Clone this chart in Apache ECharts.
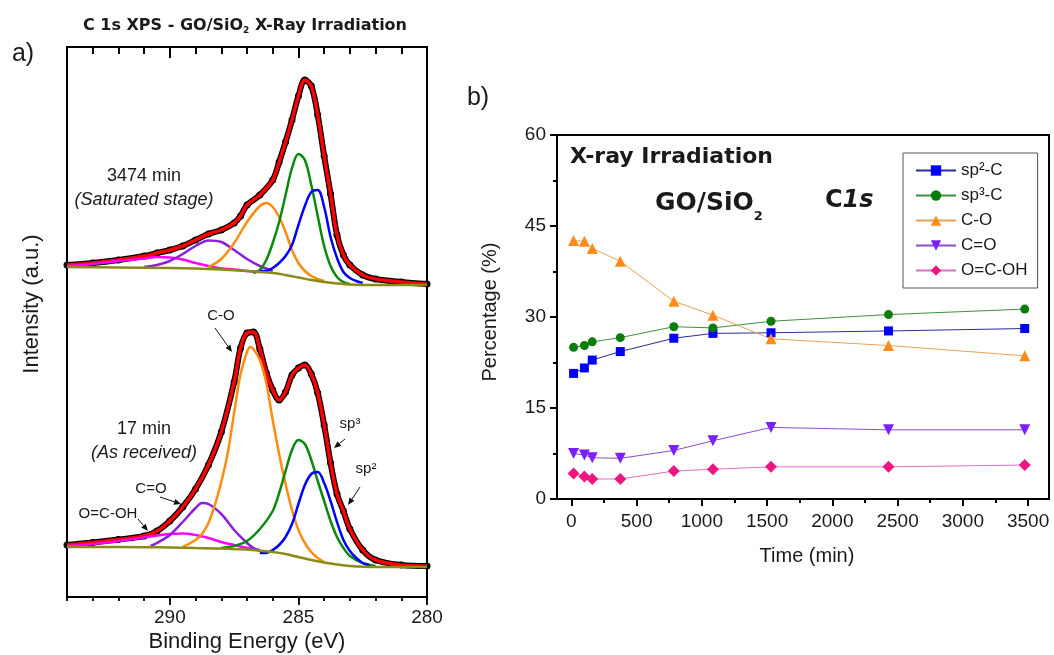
<!DOCTYPE html>
<html><head><meta charset="utf-8">
<script src="https://cdn.jsdelivr.net/npm/echarts@6/dist/echarts.min.js"></script>
<style>html,body{margin:0;padding:0;background:#fff}#c{width:1054px;height:655px}</style>
</head><body><div id="c"></div>
<script>
// ---------- Panel b) data ----------
const timeMin = [17, 100, 160, 375, 785, 1085, 1530, 2430, 3474];
const sp2C   = [20.7, 21.6, 22.9, 24.3, 26.5, 27.3, 27.4, 27.7, 28.1];
const sp3C   = [25.0, 25.3, 25.9, 26.6, 28.4, 28.2, 29.3, 30.4, 31.3];
const cO     = [42.6, 42.5, 41.3, 39.2, 32.6, 30.3, 26.4, 25.3, 23.6];
const cdO    = [7.5, 7.25, 6.8, 6.7, 8.0, 9.6, 11.8, 11.4, 11.4];
const oCOH   = [4.2, 3.7, 3.3, 3.3, 4.6, 4.9, 5.3, 5.3, 5.6];
const timeTicks = [0, 500, 1000, 1500, 2000, 2500, 3000, 3500];
const timeMinorTicks = [250, 750, 1250, 1750, 2250, 2750, 3250];
const seriesNames = ['sp\u00b2-C', 'sp\u00b3-C', 'C-O', 'C=O', 'O=C-OH'];

// ---------- Panel a) data: [binding energy (eV), intensity (a.u.)] ----------
const beTicks = [280, 285, 290];
// 3474 min (saturated stage)
const topEnvelope = [[294,332],[293,334],[292,337],[291,341],[290.5,344],[290,347],[289.5,351],[289,357],[288.5,363],[288,367],[287.5,374],[287.25,381],[287,392],[286.5,402],[286,417],[285.75,435],[285.5,455],[285.25,477],[285,501],[284.75,517],[284.5,511],[284.25,482],[284,441],[283.75,403],[283.5,362],[283.25,342],[283,332],[282.5,322],[282,318],[281,315],[280,313]];
const topBg = [[294,330],[292,329.5],[290,329],[289,328.5],[288,327.5],[287,326],[286,324],[285.5,322],[285,319.5],[284.5,317],[284,315],[283.5,313.5],[283,312.5],[282,312],[280,312]];
const topOCOH = [[294,331],[293,333],[292,336],[291,338.5],[290.5,340],[290,339.5],[289.5,337.5],[289,334],[288.5,331],[288,328.5],[287.5,327.5],[287,326],[286.5,325]];
const topCdO = [[291,330],[290.5,332],[290,336],[289.5,343],[289,351],[288.5,356.5],[288,355],[287.5,347],[287,338],[286.5,331],[286,326]];
const topCO = [[288.5,330],[288,338],[287.5,354],[287,375],[286.5,391],[286.25,394],[286,390],[285.75,380],[285.5,365],[285.25,347],[285,334],[284.75,326],[284.5,321],[284.25,318],[284,316]];
const topSp3 = [[286.75,324],[286.5,327],[286.25,337],[286,354],[285.75,375],[285.5,402],[285.25,429],[285,443],[284.75,437],[284.5,412],[284.25,381],[284,351],[283.75,331],[283.5,320],[283.25,315],[283,313]];
const topSp2 = [[286.5,326],[286.25,326],[286,329],[285.75,334],[285.5,341],[285.25,352],[285,372],[284.75,391],[284.5,405],[284.25,407],[284,390],[283.75,360],[283.5,339],[283.25,325],[283,319],[282.75,316],[282.5,314]];
// 17 min (as received)
const botEnvelope = [[294,52],[293,54.5],[292,57.5],[291,61],[290.5,66],[290,76],[289.5,90],[289,108],[288.5,132],[288,165],[287.5,215],[287.25,249],[287,264],[286.75,265],[286.5,248],[286.25,224],[286,207],[285.75,197],[285.5,205],[285.25,222],[285,229],[284.75,232],[284.5,223],[284.25,204],[284,172],[283.75,134],[283.5,103],[283.25,86],[283,68],[282.5,47],[282,37],[281,32],[280,31]];
const botBg = [[294,50],[292,50],[290,49.5],[289,49],[288,48.5],[287,47.5],[286,45],[285.5,43],[285,40],[284.5,37],[284,34.5],[283.5,32.5],[283,31],[282,30],[280,30]];
const botOCOH = [[294,51],[293,53],[292,56],[291,59.5],[290.5,61.5],[290,63],[289.5,63.5],[289,62],[288.5,59],[288,55],[287.5,52],[287,49],[286.5,47]];
const botCdO = [[290.75,51],[290.5,54],[290,62],[289.5,75],[289,89],[288.75,94],[288.5,93],[288,83],[287.5,67],[287,54],[286.75,49],[286.5,46]];
const botCO = [[289.5,50],[289,57],[288.75,63],[288.5,74],[288.25,92],[288,115],[287.75,144],[287.5,184],[287.25,223],[287,245],[286.875,250],[286.75,248],[286.5,237],[286.25,214],[286,177],[285.75,143],[285.5,113],[285.25,87],[285,67],[284.75,54],[284.5,45],[284.25,39],[284,35]];
const botSp3 = [[288,49],[287.5,51],[287,56],[286.5,68],[286,86],[285.75,104],[285.5,126],[285.25,147],[285,157],[284.75,153],[284.5,137],[284.25,116],[284,96],[283.75,76],[283.5,60],[283.25,49],[283,41],[282.5,34],[282,31]];
const botSp2 = [[286.5,44],[286.25,44],[286,47],[285.75,52],[285.5,60],[285.25,73],[285,93],[284.75,112],[284.5,123],[284.25,125],[284,114],[283.75,96],[283.5,75],[283.25,57],[283,46],[282.75,39],[282.5,34],[282.25,32]];

const FONT = '"Liberation Sans", Arial, sans-serif';
const BOLD = '"DejaVu Sans", sans-serif';

function curve(data, color, width, z, extra) {
  return Object.assign({
    type: 'line', xAxisIndex: 0, yAxisIndex: 0, data: data, smooth: 0.35,
    symbol: 'none', lineStyle: { color: color, width: width }, silent: true, z: z
  }, extra || {});
}
function dataCurve(data) {
  return curve(data, '#000', 6, 2, { symbol: 'circle', showSymbol: true, symbolSize: 7, itemStyle: { color: '#000' } });
}
function spectrum(env, bg, ocoh, cdo, co, sp3, sp2) {
  return [
    dataCurve(env),
    curve(env, '#ff0000', 3.5, 3),
    curve(ocoh, '#ff00ff', 2.5, 4),
    curve(cdo, '#8a1fe0', 2.5, 4),
    curve(co, '#ff8c12', 2.5, 4),
    curve(sp3, '#0a8a0a', 2.5, 4),
    curve(sp2, '#0000ff', 2.5, 4),
    curve(bg, '#8a8a14', 2.5, 5)
  ];
}
function pointSeries(name, vals, color, lineColor, symbol, size, rot) {
  return {
    name: name, type: 'line', xAxisIndex: 2, yAxisIndex: 1,
    data: timeMin.map((t, i) => [t, vals[i]]),
    symbol: symbol, symbolSize: size, symbolRotate: rot || 0, showSymbol: true,
    itemStyle: { color: color }, lineStyle: { color: lineColor, width: 1 }, z: 3
  };
}
function txt(x, y, text, style) {
  return { type: 'text', x: x, y: y, silent: true,
    style: Object.assign({ text: text, fill: '#1a1a1a', font: '18px ' + FONT, align: 'center', verticalAlign: 'middle' }, style || {}) };
}
function arrow(x1, y1, x2, y2) {
  const a = Math.atan2(y2 - y1, x2 - x1), L = 7, W = 3;
  const bx = x2 - L * Math.cos(a), by = y2 - L * Math.sin(a);
  const px = -Math.sin(a) * W, py = Math.cos(a) * W;
  return [
    { type: 'line', silent: true, shape: { x1: x1, y1: y1, x2: bx, y2: by }, style: { stroke: '#111', lineWidth: 1 } },
    { type: 'polygon', silent: true, shape: { points: [[x2, y2], [bx + px, by + py], [bx - px, by - py]] }, style: { fill: '#111' } }
  ];
}

const tickLbl = { fontSize: 19, fontFamily: FONT, color: '#1a1a1a', formatter: v => String(v) };
const noLine = { show: false, onZero: false };
const hiddenY = (g) => ({ gridIndex: g, type: 'value', min: 0, max: 1, show: false, axisLine: noLine });
const leftBox = { left: 67, top: 47, width: 360, height: 550 };
const rightBox = { left: 557, top: 135, width: 492, height: 364 };
const option = {
  animation: false,
  backgroundColor: '#fff',
  grid: [
    { ...leftBox, show: true, borderColor: '#000', borderWidth: 2, backgroundColor: 'transparent' },
    { ...rightBox, show: true, borderColor: '#000', borderWidth: 2, backgroundColor: 'transparent' },
    { ...leftBox, show: false },
    { ...rightBox, show: false }
  ],
  xAxis: [
    // 0: left panel bottom, 1 eV ticks + labels
    { gridIndex: 0, type: 'value', min: 280, max: 294, interval: 1, inverse: true, position: 'bottom',
      axisLine: noLine, splitLine: { show: false },
      axisTick: { show: true, length: 4, lineStyle: { color: '#000', width: 1.8 } },
      axisLabel: { show: true, customValues: beTicks, margin: 11, ...tickLbl } },
    // 1: left panel top, 1 eV ticks inside
    { gridIndex: 0, type: 'value', min: 280, max: 294, interval: 1, inverse: true, position: 'top',
      axisLine: { show: true, onZero: false, lineStyle: { color: '#000', width: 2 } }, splitLine: { show: false }, axisLabel: { show: false },
      axisTick: { show: true, inside: true, length: 7, lineStyle: { color: '#000', width: 2 } } },
    // 2: right panel bottom, major ticks + labels
    { gridIndex: 1, type: 'value', min: -110, max: 3660, position: 'bottom',
      axisLine: noLine, splitLine: { show: false },
      axisTick: { show: true, customValues: timeTicks, length: 7, lineStyle: { color: '#000', width: 2 } },
      axisLabel: { show: true, customValues: timeTicks, margin: 13, ...tickLbl } },
    // 3: left panel bottom, major ticks
    { gridIndex: 2, type: 'value', min: 280, max: 294, inverse: true, position: 'bottom',
      axisLine: noLine, splitLine: { show: false }, axisLabel: { show: false },
      axisTick: { show: true, customValues: beTicks, length: 8, lineStyle: { color: '#000', width: 1.8 } } },
    // 4: left panel top, major ticks inside
    { gridIndex: 2, type: 'value', min: 280, max: 294, inverse: true, position: 'top',
      axisLine: noLine, splitLine: { show: false }, axisLabel: { show: false },
      axisTick: { show: true, inside: true, customValues: beTicks, length: 11, lineStyle: { color: '#000', width: 2 } } },
    // 5: right panel bottom, minor ticks
    { gridIndex: 3, type: 'value', min: -110, max: 3660, position: 'bottom',
      axisLine: noLine, splitLine: { show: false }, axisLabel: { show: false },
      axisTick: { show: true, customValues: timeMinorTicks, length: 4, lineStyle: { color: '#000', width: 2 } } }
  ],
  yAxis: [
    { gridIndex: 0, type: 'value', min: 0, max: 550, axisLine: noLine, axisTick: { show: false },
      axisLabel: { show: false }, splitLine: { show: false } },
    { gridIndex: 1, type: 'value', min: 0, max: 60, interval: 15, position: 'left',
      axisLine: noLine, splitLine: { show: false },
      axisTick: { show: true, length: 7, lineStyle: { color: '#000', width: 2 } },
      minorTick: { show: true, splitNumber: 2, length: 4, lineStyle: { color: '#000', width: 2 } },
      axisLabel: { margin: 11, ...tickLbl } },
    hiddenY(2),
    hiddenY(3)
  ],
  legend: {
    data: seriesNames, orient: 'vertical', left: 903, top: 153,
    padding: [9, 10, 9, 12], itemGap: 8, itemWidth: 40, itemHeight: 13,
    borderColor: '#555', borderWidth: 1, backgroundColor: '#fff',
    textStyle: { fontSize: 17, fontFamily: FONT, color: '#1a1a1a', lineHeight: 14 }
  },
  series: [
    ...spectrum(topEnvelope, topBg, topOCOH, topCdO, topCO, topSp3, topSp2),
    ...spectrum(botEnvelope, botBg, botOCOH, botCdO, botCO, botSp3, botSp2),
    pointSeries(seriesNames[0], sp2C, '#0000ff', '#2b2b9a', 'rect', 9),
    pointSeries(seriesNames[1], sp3C, '#0b7d0b', '#3f8f3f', 'circle', 9),
    pointSeries(seriesNames[2], cO, '#ff8c1a', '#e8a452', 'triangle', 11),
    pointSeries(seriesNames[3], cdO, '#7b1fff', '#8a4cc8', 'triangle', 11, 180),
    pointSeries(seriesNames[4], oCOH, '#ee1680', '#e070c0', 'diamond', 12)
  ],
  graphic: [
    // panel a
    txt(245, 26, '{a|C 1s XPS - GO/SiO}{s|2}{a| X-Ray Irradiation}', {
      rich: { a: { fontSize: 16, fontWeight: 'bold', fontFamily: BOLD, lineHeight: 18, fill: '#1a1a1a' },
              s: { fontSize: 9, fontWeight: 'bold', fontFamily: BOLD, lineHeight: 9, verticalAlign: 'bottom', fill: '#1a1a1a' } } }),
    txt(23, 54, 'a)', { font: '25px ' + FONT }),
    txt(32, 304, 'Intensity (a.u.)', { font: '22px ' + FONT }),
    txt(247, 642, 'Binding Energy (eV)', { font: '22px ' + FONT }),
    txt(144, 176, '3474 min'),
    txt(144, 200, '(Saturated stage)', { font: 'italic 18px ' + FONT }),
    txt(144, 429, '17 min'),
    txt(144, 453, '(As received)', { font: 'italic 18px ' + FONT }),
    txt(221, 316, 'C-O', { font: '15px ' + FONT }),
    txt(151, 489, 'C=O', { font: '15px ' + FONT }),
    txt(108, 514, 'O=C-OH', { font: '15px ' + FONT }),
    txt(350, 424, 'sp\u00b3', { font: '15px ' + FONT }),
    txt(366, 469, 'sp\u00b2', { font: '15px ' + FONT }),
    ...arrow(215, 328, 232, 352),
    ...arrow(160, 497, 181, 504),
    ...arrow(138, 519, 148, 531),
    ...arrow(345, 439, 334, 448),
    ...arrow(360, 487, 348, 505),
    // panel b
    txt(478, 98, 'b)', { font: '25px ' + FONT }),
    txt(490, 312, 'Percentage (%)', { font: '20px ' + FONT }),
    txt(807, 556, 'Time (min)', { font: '20px ' + FONT }),
    txt(570, 157, 'X-ray Irradiation', { font: 'bold 22px ' + BOLD, align: 'left' }),
    txt(655, 203, '{a|GO/SiO}{s|2}', { align: 'left',
      rich: { a: { fontSize: 25, fontWeight: 'bold', fontFamily: BOLD, lineHeight: 40, fill: '#1a1a1a' },
              s: { fontSize: 13, fontWeight: 'bold', fontFamily: BOLD, lineHeight: 10, verticalAlign: 'bottom', fill: '#1a1a1a' } } }),
    txt(825, 201, '{a|C}{b|1s}', { align: 'left',
      rich: { a: { fontSize: 24, fontWeight: 'bold', fontFamily: BOLD, fill: '#1a1a1a' },
              b: { fontSize: 24, fontWeight: 'bold', fontStyle: 'italic', fontFamily: BOLD, fill: '#1a1a1a' } } })
  ]
};
// rotate the vertical axis titles
option.graphic[2].rotation = Math.PI / 2;
option.graphic.find(g => g.style && g.style.text === 'Percentage (%)').rotation = Math.PI / 2;

const chart = echarts.init(document.getElementById('c'));
chart.setOption(option);
</script>
</body></html>
